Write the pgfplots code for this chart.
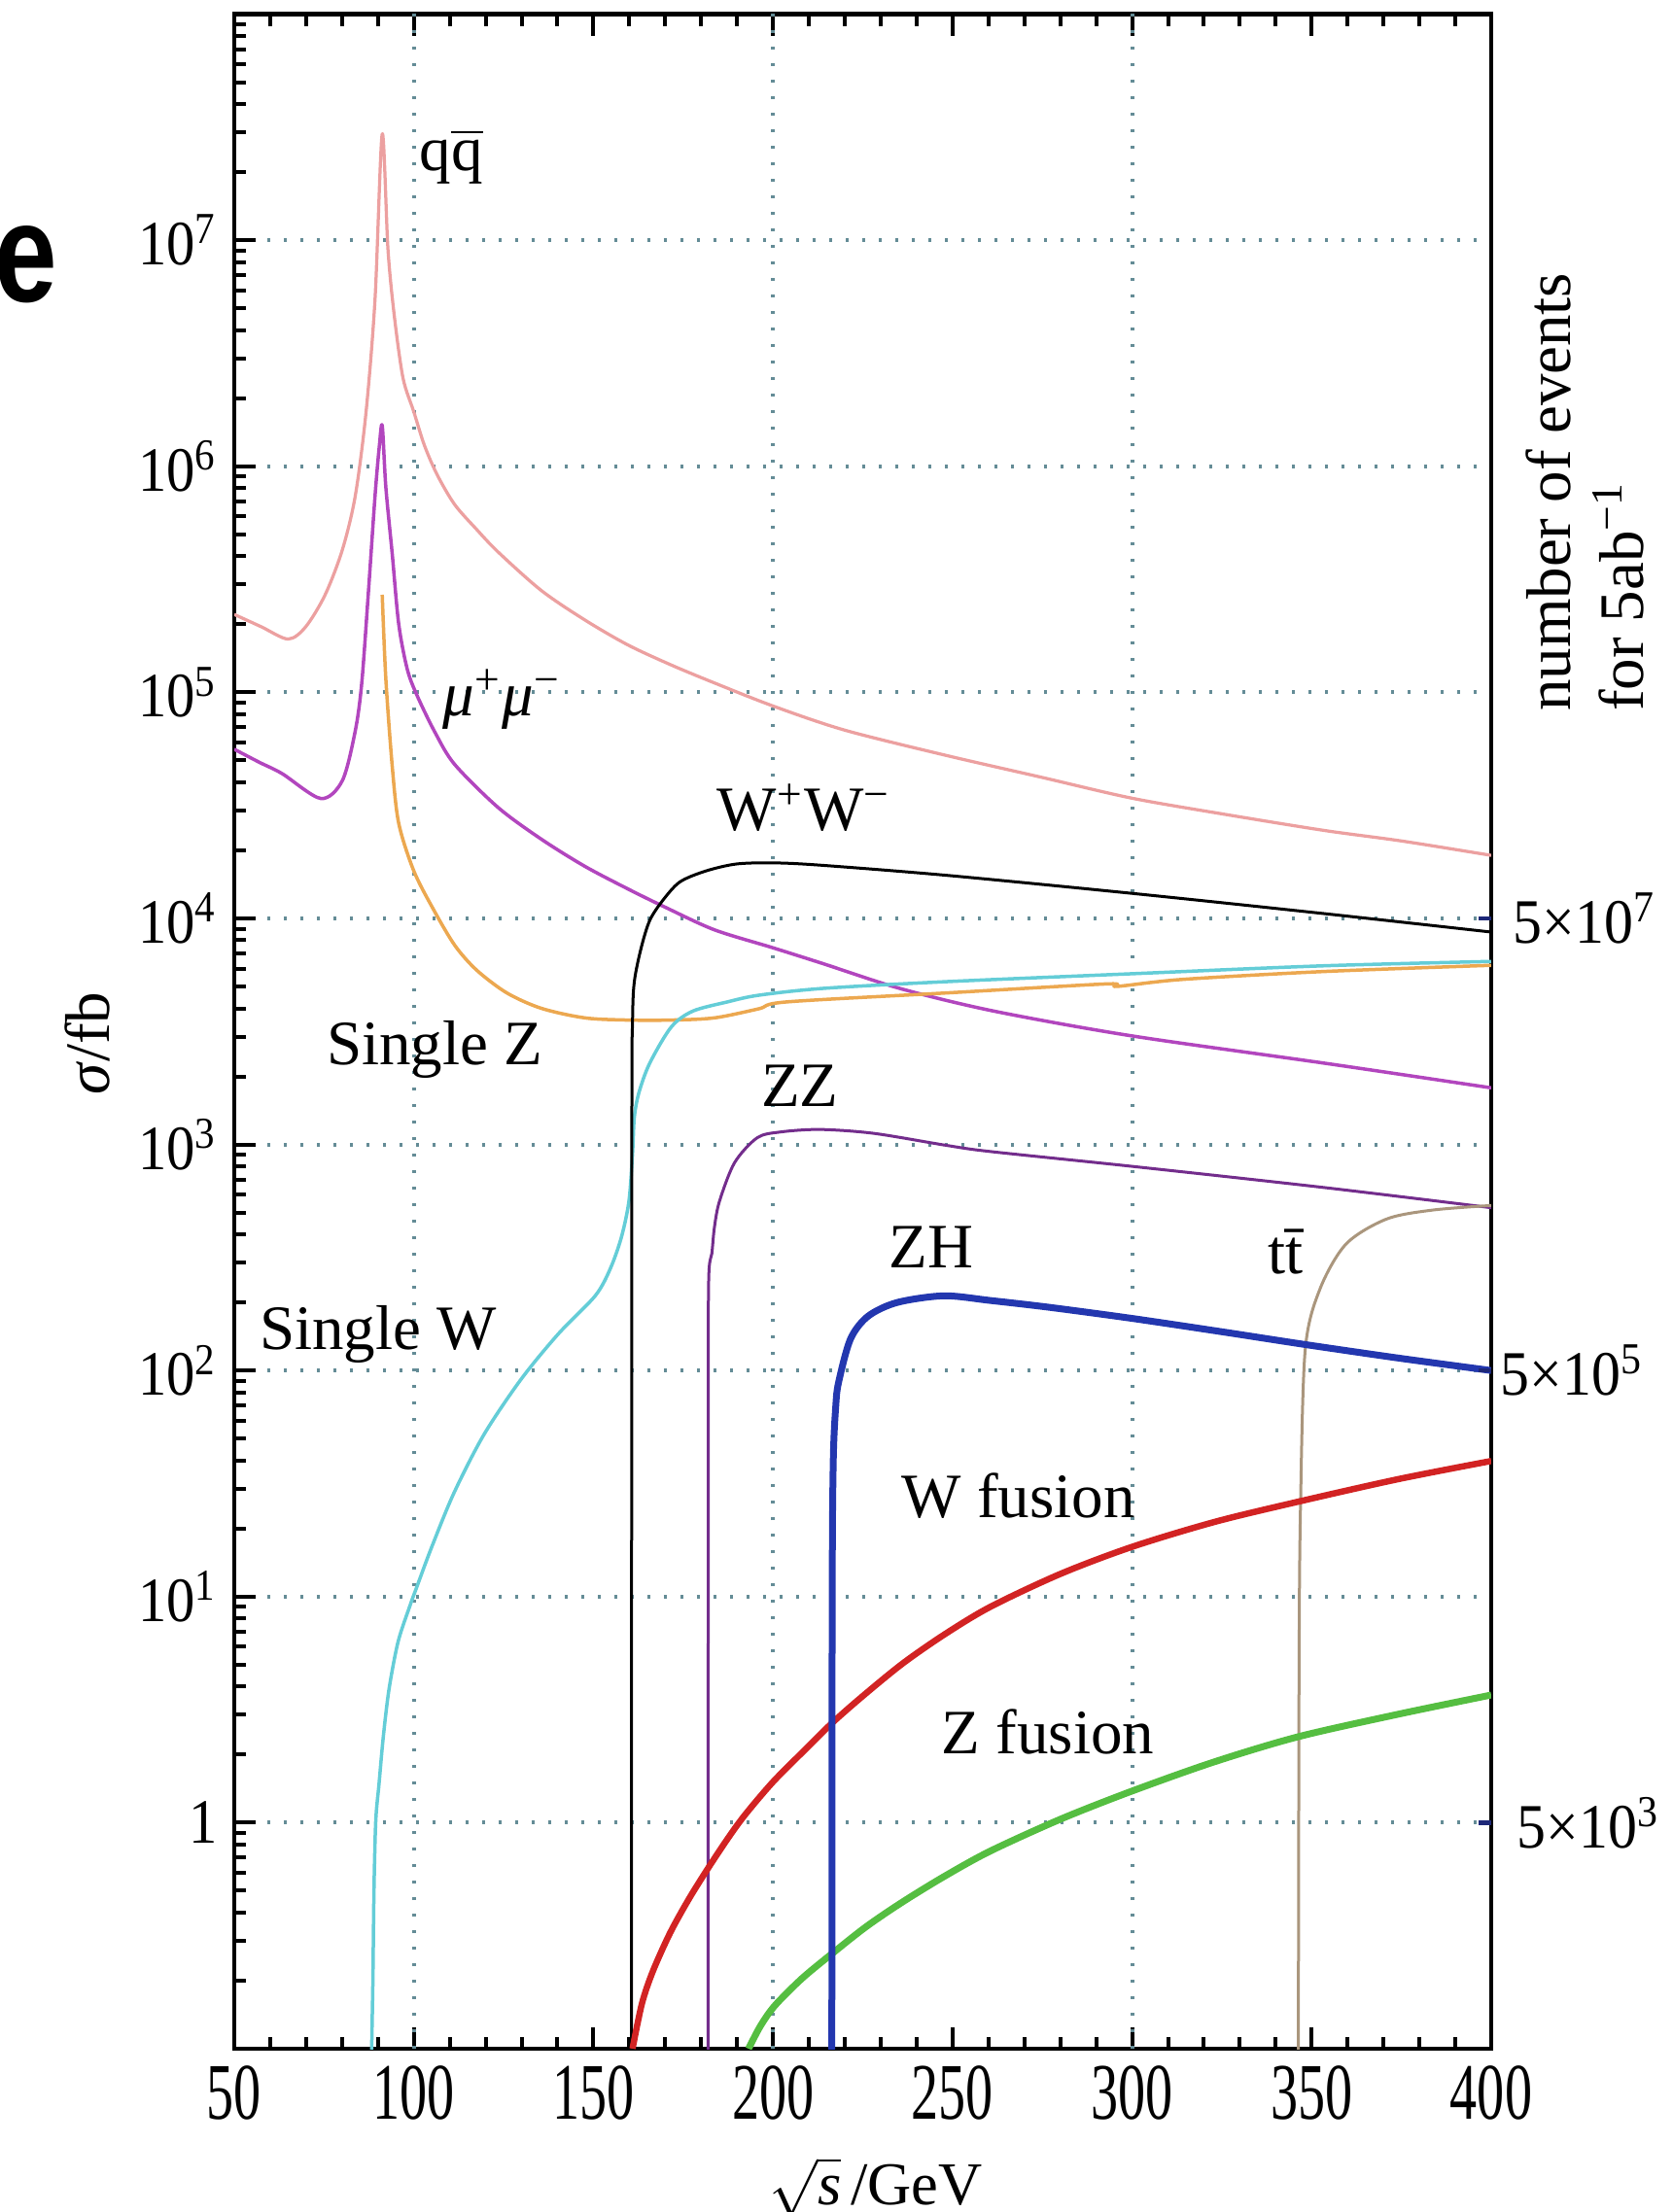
\documentclass[border=0pt]{standalone}
\usepackage{fontspec}
\setmainfont{Liberation Serif}
\newfontfamily\panelfont{Liberation Sans}
\usepackage{amsmath}
\usepackage{graphicx}
\usepackage{pgfplots}
\pgfplotsset{compat=1.18}

\definecolor{qqc}{RGB}{236,160,160}
\definecolor{mumuc}{RGB}{178,70,190}
\definecolor{szc}{RGB}{236,168,80}
\definecolor{swc}{RGB}{100,205,215}
\definecolor{zzc}{RGB}{115,45,140}
\definecolor{zhc}{RGB}{35,55,175}
\definecolor{ttc}{RGB}{170,150,125}
\definecolor{wfc}{RGB}{210,35,35}
\definecolor{zfc}{RGB}{85,190,65}
\definecolor{gridc}{RGB}{100,140,150}
\definecolor{tickblue}{RGB}{30,40,120}

\newcommand{\xl}[1]{\scalebox{0.68}[1]{#1}}
\newcommand{\yl}[1]{\scalebox{0.9}[1]{#1}}
\newcommand{\yp}[1]{\yl{10\textsuperscript{#1}}}
\tikzset{lab/.style={font=\fontsize{13}{15}\selectfont, inner sep=0pt}}

\begin{document}
\begin{tikzpicture}
\begin{axis}[
    at={(0,0)}, anchor=south west,
    scale only axis, width=258.6pt, height=418.7pt,
    xmin=50, xmax=400,
    ymode=log, ymin=0.1, ymax=1e8,
    xtick={50,100,...,400},
    xticklabels={\xl{50},\xl{100},\xl{150},\xl{200},\xl{250},\xl{300},\xl{350},\xl{400}},
    minor x tick num=4,
    ytick={1,10,100,1000,10000,100000,1000000,10000000},
    yticklabels={\yl{1},\yp{1},\yp{2},\yp{3},\yp{4},\yp{5},\yp{6},\yp{7}},
    minor ytick={0.2,0.3,0.4,0.5,0.6,0.7,0.8,0.9,
        2,3,4,5,6,7,8,9,20,30,40,50,60,70,80,90,
        200,300,400,500,600,700,800,900,2000,3000,4000,5000,6000,7000,8000,9000,
        2e4,3e4,4e4,5e4,6e4,7e4,8e4,9e4,2e5,3e5,4e5,5e5,6e5,7e5,8e5,9e5,
        2e6,3e6,4e6,5e6,6e6,7e6,8e6,9e6,2e7,3e7,4e7,5e7,6e7,7e7,8e7,9e7},
    xtick pos=both, ytick pos=left,
    tick align=inside,
    major tick length=4.5pt, minor tick length=2.5pt,
    every tick/.style={black, line width=0.8pt},
    axis line style={line width=0.9pt},
    ymajorgrids,
    extra x ticks={100,200,300}, extra x tick labels={},
    extra x tick style={xmajorgrids=true, major tick length=0pt},
    grid style={gridc, line width=0.8pt, dash pattern=on 0.6pt off 2.8pt},
    xticklabel style={font=\fontsize{16.5}{18}\selectfont},
    yticklabel style={font=\fontsize{13}{15}\selectfont},
    xlabel={$\sqrt{\text{\itshape s}}\,$/GeV},
    xlabel style={at={(axis description cs:0.5104,-0.0768)}, anchor=base, font=\fontsize{12.5}{14}\selectfont},
    ylabel={\textit{σ}/fb},
    ylabel style={at={(axis description cs:-0.1168,0.494)}, anchor=center, font=\fontsize{13}{15}\selectfont},
    clip mode=individual,
    every axis plot/.append style={line join=round, no marks, smooth, tension=0.5},
]

% q qbar
\addplot[qqc, line width=0.65pt] coordinates {
 (50,2.21e5) (57.5,1.95e5) (65,1.72e5) (69.9,1.95e5) (75.3,2.7e5) (80.1,4.27e5)
 (83.7,7.4e5) (86.7,1.74e6) (89.2,5.5e6) (91.2,2.95e7) (92.8,9.1e6) (94.6,4.57e6)
 (97,2.45e6) (100,1.74e6) (103,1.23e6) (106.6,9.1e5) (111.4,6.76e5) (117.5,5.25e5)
 (123.5,4.17e5) (135.5,2.82e5) (147.6,2.09e5) (159.6,1.62e5) (171.7,1.32e5)
 (183.7,1.10e5) (200,8.7e4) (220,6.8e4) (248.4,5.25e4) (275,4.2e4) (300,3.4e4)
 (325,2.9e4) (353.4,2.45e4) (375,2.2e4) (400,1.9e4)
};
% mu+ mu-
\addplot[mumuc, line width=0.7pt] coordinates {
 (50,5.6e4) (57,4.9e4) (63.3,4.37e4) (74.1,3.39e4) (80.1,4.07e4) (83.7,6.76e4)
 (85.5,1.1e5) (87.3,2.7e5) (89.2,7.4e5) (90.4,1.23e6) (91.2,1.51e6) (92.2,8.1e5)
 (94,4.07e5) (95.8,2.0e5) (98.2,1.26e5) (101,9.6e4) (106,6.6e4) (111.4,4.79e4)
 (123.5,3.09e4) (135.5,2.24e4) (147.6,1.70e4) (159.6,1.35e4) (170,1.12e4)
 (183.7,8.9e3) (200,7.41e3) (213.9,6.31e3) (235.3,4.90e3) (261.5,3.89e3)
 (300,3.02e3) (353.4,2.29e3) (400,1.78e3)
};
% single Z
\addplot[szc, line width=0.7pt] coordinates {
 (91.2,2.7e5) (92.2,1.15e5) (94,4.68e4) (95.8,2.63e4) (100,1.62e4) (105.4,1.1e4)
 (111.4,7.6e3) (117.5,5.9e3) (125.9,4.68e3) (135.5,4.0e3) (147.6,3.63e3)
 (159.6,3.55e3) (171.7,3.55e3) (183.7,3.63e3) (196,3.98e3) (203.8,4.27e3)
 (248.4,4.68e3) (293,5.13e3) (295.7,5.0e3) (314,5.37e3) (353.4,5.82e3) (400,6.2e3)
};
% single W
\addplot[swc, line width=0.7pt] coordinates {
 (88.2,0.09) (88.6,0.2) (88.9,0.5) (89.4,1.02) (90.3,1.48) (91.5,2.4) (93.1,3.9)
 (95.6,6.3) (98.8,9.0) (100.8,11) (105,16.6) (111.2,28.8) (119.5,52) (129.8,91.2)
 (140.2,145) (150.5,214) (154.7,282) (157.8,389) (159.9,562) (160.9,912)
 (161.4,1320) (162.7,1700) (165.7,2290) (171.7,3310) (177.7,3890) (187.3,4270)
 (196,4570) (213.9,4900) (248.4,5250) (300,5690) (353.4,6170) (400,6450)
};
% W+ W-
\addplot[black, line width=0.6pt] coordinates {
 (160.6,0.09) (160.7,1000) (160.9,3500) (161.4,5250) (163.3,7400) (165.7,9800)
 (169.3,12000) (174.1,14500) (181.3,16200) (189.8,17400) (200,17600) (213,17200)
 (248.4,15500) (300,12900) (353.4,10500) (400,8700)
};
% ZZ
\addplot[zzc, line width=0.6pt] coordinates {
 (181.9,0.09) (182.0,50) (182.1,250) (183.0,330) (183.7,430) (185.1,560)
 (189.3,830) (195.6,1070) (202,1135) (213,1165) (228,1120) (248.4,990)
 (260.6,930) (300,800) (353.4,645) (400,525)
};
% t tbar
\addplot[ttc, line width=0.6pt] coordinates {
 (346.3,0.09) (346.5,5) (346.9,25) (348.2,123) (352.3,229) (359.6,363)
 (370.9,468) (383.9,513) (400,537)
};
% W fusion
\addplot[wfc, line width=1.3pt] coordinates {
 (160.9,0.1) (163.5,0.158) (166.5,0.219) (171.3,0.324) (176.5,0.457) (181.6,0.617)
 (187,0.832) (192,1.072) (200,1.514) (209.4,2.138) (216.4,2.754) (225,3.63)
 (236.2,5.07) (248,6.84) (260.6,9.02) (280,12.59) (300,16.6) (323,21.4)
 (346.3,26.3) (374.2,33.1) (400,39.8)
};
% Z fusion
\addplot[zfc, line width=1.4pt] coordinates {
 (193.2,0.1) (196.5,0.126) (200.5,0.155) (208,0.204) (216.4,0.263) (226,0.347)
 (236.2,0.447) (248,0.582) (260.6,0.750) (280,1.035) (300,1.38) (323,1.86)
 (346.3,2.40) (374.2,3.02) (400,3.67)
};
% ZH
\addplot[zhc, line width=1.4pt] coordinates {
 (216.4,0.09) (216.5,10) (216.8,40) (217.5,70) (218.3,89) (221.6,138)
 (226.5,174) (234.6,200) (247.6,214) (260.6,204) (276.8,190.5) (300,170)
 (325.5,148) (348.2,130.3) (374.2,113.5) (400,100)
};

\node[lab] at (axis cs:110.5,2.34e7) {q$\overline{\text{q}}$};
\node[lab] at (axis cs:124.6,9.3e4) {\textit{μ}\textsuperscript{+}\textit{μ}\textsuperscript{−}};
\node[lab] at (axis cs:208.7,3.09e4) {W\textsuperscript{+}W\textsuperscript{−}};
\node[lab] at (axis cs:105.8,2630) {Single Z};
\node[lab] at (axis cs:207.5,1820) {ZZ};
\node[lab] at (axis cs:244,351) {ZH};
\node[lab] at (axis cs:342.8,334) {t\={t}};
\node[lab] at (axis cs:90.1,145) {Single W};
\node[lab] at (axis cs:268.4,28) {W fusion};
\node[lab] at (axis cs:276.6,2.51) {Z fusion};

\draw[tickblue, line width=0.9pt] (axis cs:400,1e4) -- ++(-2.5pt,0pt);
\draw[tickblue, line width=0.9pt] (axis cs:400,100) -- ++(-2.5pt,0pt);
\draw[tickblue, line width=0.9pt] (axis cs:400,1) -- ++(-2.5pt,0pt);
\node[lab, anchor=west] at ([xshift=4.4pt]axis cs:400,1e4) {\scalebox{0.92}[1]{5×10\textsuperscript{7}}};
\node[lab, anchor=west] at ([xshift=1.8pt]axis cs:400,100) {\scalebox{0.92}[1]{5×10\textsuperscript{5}}};
\node[lab, anchor=west] at ([xshift=5.2pt]axis cs:400,1) {\scalebox{0.92}[1]{5×10\textsuperscript{3}}};
\end{axis}

\node[rotate=90, anchor=west, inner sep=0pt, font=\fontsize{13}{15}\selectfont]
  at (279.4pt,275pt) {\begin{tabular}{@{}l@{}}number of events\\ for 5ab\textsuperscript{−1}\end{tabular}};
\node[anchor=west, inner sep=0pt] at (-49.5pt,367.1pt)
  {\scalebox{0.8}[1]{\panelfont\bfseries\fontsize{29}{30}\selectfont e}};

\pgfresetboundingbox
\useasboundingbox (-48.2pt,-33.6pt) rectangle (296pt,421.6pt);
\end{tikzpicture}
\end{document}
